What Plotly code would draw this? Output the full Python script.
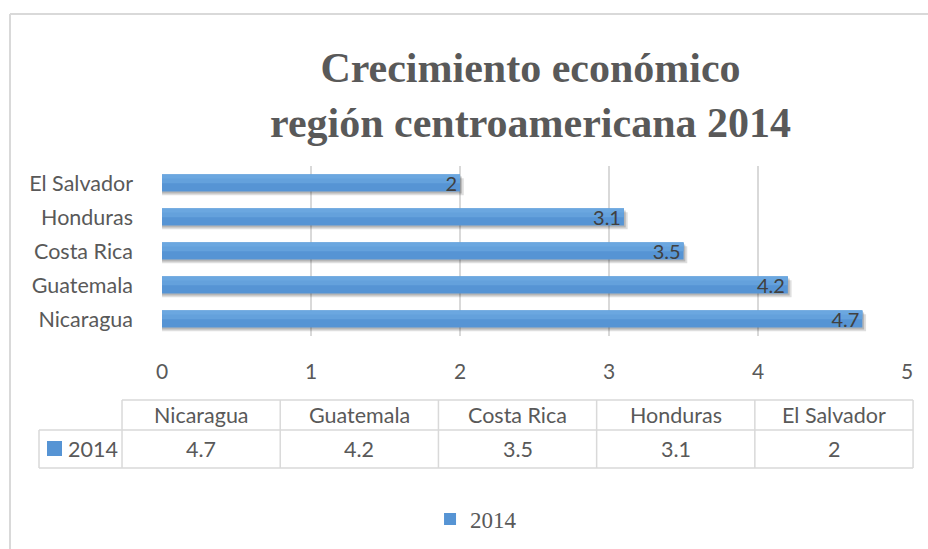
import plotly.graph_objects as go

# data
paises = ["Nicaragua", "Guatemala", "Costa Rica", "Honduras", "El Salvador"]
crecimiento = [4.7, 4.2, 3.5, 3.1, 2]
serie = "2014"
ticks_x = [0, 1, 2, 3, 4, 5]

W, H = 928, 549
GRIS = "#595959"
LINEA = "#D9D9D9"
AZUL = "#5694D4"
FUENTE = "Lato"

# la captura comprime un poco el eje horizontal: se compensa aquí
X_OFF, X_ESC = 6, 0.987


def px(x):
    return (x - X_OFF) / X_ESC / W


def py(y):
    return 1 - y / H


fig = go.Figure()

# sombra de las barras
fig.add_trace(go.Bar(
    y=paises, x=[v + 0.025 for v in crecimiento], orientation="h",
    width=0.5, offset=-0.36, marker=dict(color="rgba(0,0,0,0.13)", line_width=0),
    showlegend=False, hoverinfo="skip",
))
fig.add_trace(go.Bar(
    y=paises, x=[v + 0.012 for v in crecimiento], orientation="h",
    width=0.5, offset=-0.31, marker=dict(color="rgba(0,0,0,0.18)", line_width=0),
    showlegend=False, hoverinfo="skip",
))

# barra principal
fig.add_trace(go.Bar(
    y=paises, x=crecimiento, orientation="h", name=serie,
    width=0.5, offset=-0.25, marker=dict(color=AZUL, line_width=0),
))
# brillo superior (degradado aproximado)
fig.add_trace(go.Bar(
    y=paises, x=crecimiento, orientation="h",
    width=0.26, offset=-0.01, marker=dict(color="#64A1DC", line_width=0),
    showlegend=False, hoverinfo="skip",
))
fig.add_trace(go.Bar(
    y=paises, x=crecimiento, orientation="h",
    width=0.12, offset=0.13, marker=dict(color="#6BA7E0", line_width=0),
    showlegend=False, hoverinfo="skip",
))
# etiquetas de valor
fig.add_trace(go.Bar(
    y=paises, x=crecimiento, orientation="h",
    width=0.5, offset=-0.25, marker=dict(color="rgba(0,0,0,0)", line_width=0),
    text=[str(v) for v in crecimiento], textposition="inside",
    insidetextanchor="end", constraintext="none", textangle=0,
    textfont=dict(family=FUENTE, size=20, color="#404040"),
    showlegend=False, hoverinfo="skip",
))

fig.update_layout(
    width=W, height=H,
    margin=dict(l=0, r=0, t=0, b=0),
    paper_bgcolor="white", plot_bgcolor="white",
    barmode="overlay",
    xaxis=dict(
        domain=[px(162), px(907)], range=[0, 5], tickvals=ticks_x,
        showgrid=True, gridcolor=LINEA, gridwidth=1.5, zeroline=False,
        showline=False, ticks="", ticklabelstandoff=21,
        tickfont=dict(family=FUENTE, size=21, color=GRIS),
    ),
    yaxis=dict(
        domain=[py(336), py(166)], categoryorder="array", categoryarray=paises,
        showgrid=False, zeroline=False, showline=False, ticks="",
        ticklabelstandoff=28,
        tickfont=dict(family=FUENTE, size=21.5, color=GRIS),
    ),
    legend=dict(
        x=px(476), xanchor="center", y=py(519), yanchor="middle",
        orientation="h", font=dict(family="Liberation Serif", size=23, color=GRIS),
        itemwidth=30,
    ),
)

# título
fig.add_annotation(
    x=px(530), y=py(95), xref="paper", yref="paper", showarrow=False,
    xanchor="center", yanchor="middle",
    text="Crecimiento económico<br>región centroamericana 2014",
    font=dict(family="Liberation Serif", size=42, color=GRIS, weight="bold"),
    align="center",
)

shapes = []
# borde del gráfico (solo se ven el lado superior y el izquierdo)
shapes.append(dict(type="line", xref="paper", yref="paper",
                   x0=px(10), x1=1.02, y0=py(14), y1=py(14),
                   line=dict(color=LINEA, width=2)))
shapes.append(dict(type="line", xref="paper", yref="paper",
                   x0=px(10), x1=px(10), y0=py(14), y1=0,
                   line=dict(color=LINEA, width=2)))

# tabla de datos
col0, col1 = 39, 122
ancho = (913 - col1) / len(paises)
y_top, y_mid, y_bot = 400, 430, 468
bordes = [col1 + i * ancho for i in range(len(paises) + 1)]
shapes.append(dict(type="line", xref="paper", yref="paper",
                   x0=px(col1), x1=px(913), y0=py(y_top), y1=py(y_top),
                   line=dict(color=LINEA, width=1.5)))
for yy in (y_mid, y_bot):
    shapes.append(dict(type="line", xref="paper", yref="paper",
                       x0=px(col0), x1=px(913), y0=py(yy), y1=py(yy),
                       line=dict(color=LINEA, width=1.5)))
shapes.append(dict(type="line", xref="paper", yref="paper",
                   x0=px(col0), x1=px(col0), y0=py(y_mid), y1=py(y_bot),
                   line=dict(color=LINEA, width=1.5)))
for b in bordes:
    shapes.append(dict(type="line", xref="paper", yref="paper",
                       x0=px(b), x1=px(b), y0=py(y_top), y1=py(y_bot),
                       line=dict(color=LINEA, width=1.5)))
# clave de la serie en la tabla
shapes.append(dict(type="rect", xref="paper", yref="paper",
                   x0=px(47), x1=px(62), y0=py(456), y1=py(441),
                   fillcolor=AZUL, line_width=0))
fig.update_layout(shapes=shapes)

fig.add_annotation(x=px(66), y=py(449), xref="paper", yref="paper",
                   xanchor="left", yanchor="middle", showarrow=False, text=serie,
                   font=dict(family=FUENTE, size=21.5, color=GRIS))
for i, (p, v) in enumerate(zip(paises, crecimiento)):
    cx = px((bordes[i] + bordes[i + 1]) / 2)
    fig.add_annotation(x=cx, y=py(415), xref="paper", yref="paper",
                       xanchor="center", yanchor="middle",
                       showarrow=False, text=p,
                       font=dict(family=FUENTE, size=21.5, color=GRIS))
    fig.add_annotation(x=cx, y=py(449), xref="paper", yref="paper",
                       xanchor="center", yanchor="middle",
                       showarrow=False, text=str(v),
                       font=dict(family=FUENTE, size=21.5, color=GRIS))

fig.write_html(
    "out.html",
    config={"displayModeBar": False},
    post_script="document.body.style.margin='0';document.body.style.overflow='hidden';",
)
